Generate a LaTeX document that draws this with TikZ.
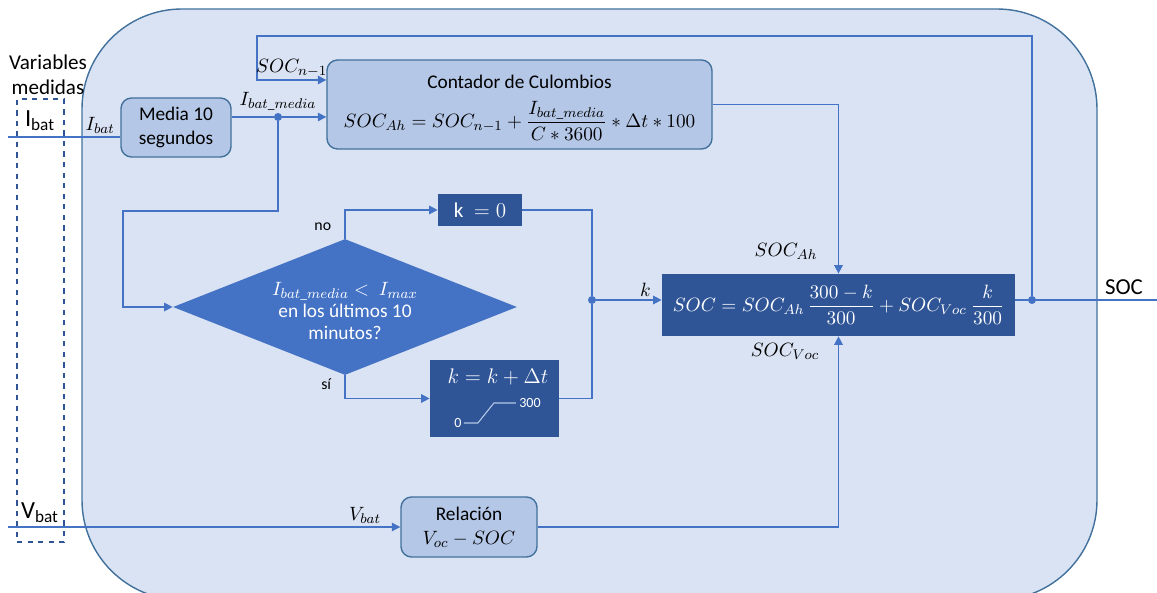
\documentclass[tikz,border=0pt]{standalone}
\usepackage{amsmath}
\usepackage{fontspec}
\setmainfont{Carlito}
\usetikzlibrary{positioning,arrows.meta,shapes.geometric,calc}
\definecolor{bgblue}{HTML}{DAE3F3}
\definecolor{boxblue}{HTML}{B4C7E7}
\definecolor{midblue}{HTML}{4472C4}
\definecolor{darkblue}{HTML}{2F5597}
\definecolor{edgeblue}{HTML}{41719C}
\tikzset{
  blk/.style  ={rectangle, rounded corners=6pt, draw=edgeblue, fill=boxblue, line width=0.8pt,
                align=center, inner sep=2pt, font=\fontsize{11}{13.5}\selectfont},
  dblk/.style ={rectangle, draw=none, fill=darkblue, text=white, align=center, inner sep=2pt,
                font=\fontsize{11}{13}\selectfont},
  dec/.style  ={diamond, fill=midblue, draw=none, inner sep=0pt},
  meas/.style ={rectangle, draw=darkblue, dashed, line width=1pt, inner sep=0pt},
  ln/.style   ={midblue, line width=0.8pt},
  arr/.style  ={ln, -{Triangle[length=1.7mm, width=1.7mm]}},
  ramp/.style ={boxblue, line width=0.6pt},
  jdot/.style ={circle, fill=midblue, inner sep=0pt, minimum size=1.6mm},
  lbl/.style  ={text=black, font=\fontsize{11}{13}\selectfont, inner sep=1.5pt},
  small/.style={text=black, font=\fontsize{9}{11}\selectfont, inner sep=1.5pt},
  wtxt/.style ={text=white, align=center, inner sep=0pt},
}
\begin{document}
\begin{tikzpicture}[x=0.2mm, y=-0.2mm]
  \useasboundingbox (0,0) rectangle (1157,593);
  % outer block
  \draw[edgeblue, line width=0.8pt, fill=bgblue, rounded corners=20mm] (82,9) rectangle (1097,600);

  % measured variables
  \node[meas, minimum width=9.4mm, minimum height=88.6mm] (meas) at (40.5,320.5) {};
  \node[font=\fontsize{12}{14.5}\selectfont, align=center, inner sep=0pt] (varlbl) at (48,75) {Variables\\medidas};
  \node[font=\fontsize{14}{16}\selectfont, inner sep=0pt] (ibattxt) at (40,121) {I\textsubscript{bat}};
  \node[font=\fontsize{14}{16}\selectfont, inner sep=0pt] (vbattxt) at (40,513) {V\textsubscript{bat}};

  % blocks
  \node[blk, minimum width=22mm, minimum height=11.8mm] (media) at (176,127.5) {Media 10\\segundos};
  \node[blk, minimum width=77mm, minimum height=17.8mm] (cont) at (519.5,104.5) {};
  \node[lbl] (contt) at (519.5,82) {Contador de Culombios};
  \node[lbl] (contf) at (519.5,121)
       {$SOC_{Ah}=SOC_{n-1}+\dfrac{I_{bat\_media}}{C*3600}*\Delta t*100$};
  \node[dec, minimum width=68.8mm, minimum height=27.2mm] (dec) at (345,307) {};
  \node[wtxt, font=\fontsize{11}{12.5}\selectfont] (dect) at (345,311)
       {$I_{bat\_media}<\ I_{max}$\\en los últimos 10\\minutos?};
  \node[dblk, font=\fontsize{12}{14}\selectfont, minimum width=16.8mm, minimum height=6.4mm] (k0) at (480,210) {$\mathrm{k}\ =0$};
  \node[dblk, minimum width=25.8mm, minimum height=15.4mm] (kinc) at (494.5,398.5) {};
  \node[wtxt, font=\fontsize{12}{14}\selectfont] (kincf) at (498,377) {$k=k+\Delta t$};
  \node[wtxt, font=\fontsize{8}{9}\selectfont] (r0) at (458,423) {0};
  \node[wtxt, font=\fontsize{8}{9}\selectfont] (r300) at (530,403) {300};
  \draw[ramp] (r0.east) ++(2,0) -- ++(14,0) -- ++(16,-20) -- ($(r300.west)+(-3,0)$);
  \node[dblk, minimum width=70.6mm, minimum height=12.4mm] (soc) at (838.5,305)
       {$SOC=SOC_{Ah}\,\dfrac{300-k}{300}+SOC_{Voc}\ \dfrac{k}{300}$};
  \node[blk, minimum width=27.2mm, minimum height=12mm] (rel) at (469,527) {Relación\\$V_{oc}-SOC$};

  % junctions and free ends
  \node[jdot] (j1) at (278,117) {};
  \node[jdot] (j2) at (592,300) {};
  \node[jdot] (j3) at (1032,300) {};
  \coordinate (ibin) at (8,137);
  \coordinate (vbin) at (8,527);
  \coordinate (socout) at (1157,300);
  \coordinate (lp) at (123,211);
  \coordinate (fb) at (257,36);

  % connectors
  \draw[ln] (ibin) -- (ibin -| media.west) node[lbl, pos=0.82, above] {$I_{bat}$};
  \draw[arr] (media.east |- j1) -- (j1) node[lbl, above=2pt] {$I_{bat\_media}$} -- (j1 -| cont.west);
  \draw[arr] (j1) |- (lp) |- (dec.west);
  \draw[arr] (dec.north) |- (k0.west) node[small, pos=0.2, left=6pt] {no};
  \draw[arr] (dec.south) |- (kinc.west) node[small, pos=0.2, left=6pt] {sí};
  \draw[ln] (k0.east) -| (j2);
  \draw[ln] (kinc.east) -| (j2);
  \draw[arr] (j2) -- (j2 -| soc.west) node[lbl, pos=0.75, above] {$k$};
  \draw[arr] (cont.east) -| (soc.north);
  \node[lbl] (socah) at (786,251) {$SOC_{Ah}$};
  \draw[arr] (rel.east) -| (soc.south);
  \node[lbl] (socvoc) at (785,351) {$SOC_{Voc}$};
  \draw[ln] (soc.east |- j3) -- (socout);
  \node[font=\fontsize{13}{15}\selectfont] (soclbl) at (1124,287) {SOC};
  \draw[arr] (j3) |- (fb) |- ($(cont.west)+(0,-24.5)$) node[lbl, pos=0.75, above] {$SOC_{n-1}$};
  \draw[arr] (vbin) -- (rel.west) node[lbl, pos=0.91, above] {$V_{bat}$};
\end{tikzpicture}
\end{document}
